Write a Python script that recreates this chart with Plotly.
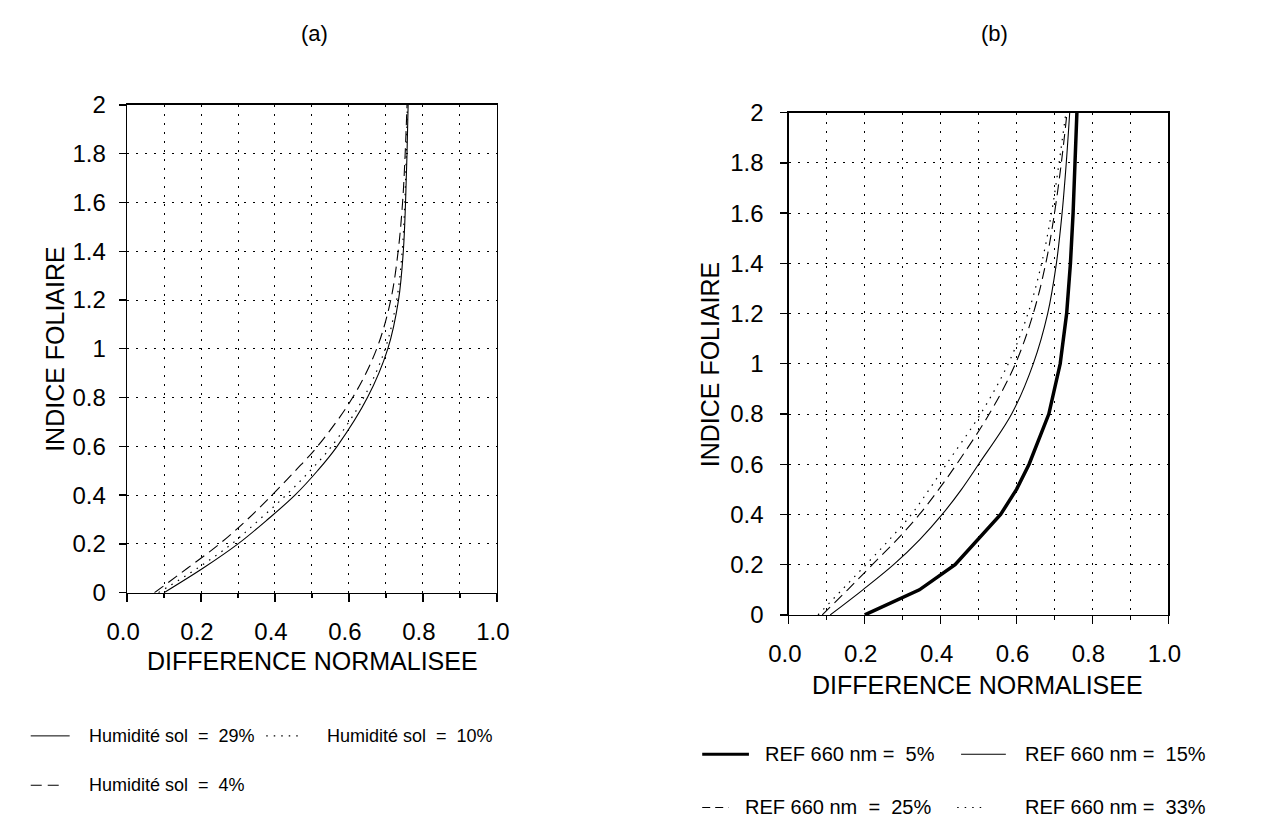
import plotly.graph_objects as go

W, H = 1267, 835

# ---------------- data ----------------
lai = [0, 0.1, 0.2, 0.3, 0.4, 0.5, 0.6, 0.8, 1.0, 1.2, 1.4, 1.6, 1.8, 2.0]

# panel (a) : soil moisture
hum_29 = [0.100, 0.205, 0.300, 0.380, 0.454, 0.515, 0.568, 0.650, 0.705, 0.734, 0.747, 0.753, 0.757, 0.760]
hum_10 = [0.085, 0.190, 0.283, 0.358, 0.430, 0.495, 0.553, 0.640, 0.698, 0.729, 0.744, 0.751, 0.755, 0.758]
hum_4 = [0.074, 0.163, 0.250, 0.325, 0.392, 0.455, 0.515, 0.610, 0.675, 0.713, 0.733, 0.745, 0.752, 0.757]

# panel (b) : reflectance 660 nm
ref_5 = [0.200, 0.344, 0.438, 0.497, 0.558, 0.600, 0.633, 0.685, 0.715, 0.732, 0.742, 0.749, 0.754, 0.759]
ref_15 = [0.109, 0.195, 0.276, 0.345, 0.404, 0.455, 0.500, 0.587, 0.644, 0.682, 0.705, 0.720, 0.731, 0.740]
ref_25 = [0.088, 0.155, 0.220, 0.285, 0.344, 0.395, 0.442, 0.528, 0.597, 0.644, 0.677, 0.700, 0.718, 0.733]
ref_33 = [0.077, 0.140, 0.203, 0.265, 0.323, 0.370, 0.415, 0.505, 0.578, 0.630, 0.666, 0.692, 0.712, 0.730]

x_ticks = [0.0, 0.2, 0.4, 0.6, 0.8, 1.0]
x_ticklabels = ["0.0", "0.2", "0.4", "0.6", "0.8", "1.0"]
y_ticks = [0, 0.2, 0.4, 0.6, 0.8, 1.0, 1.2, 1.4, 1.6, 1.8, 2.0]
y_ticklabels = ["0", "0.2", "0.4", "0.6", "0.8", "1", "1.2", "1.4", "1.6", "1.8", "2"]

FONT = "Liberation Sans, Arial, sans-serif"
DASH = "11px,6px"
DOT = "1.5px,6px"


def px(x):
    return x / W


def py(y):
    return 1 - y / H


fig = go.Figure()


def curve(xs, xa, ya, width, dash="solid", smooth=True):
    line = dict(color="black", width=width, dash=dash)
    if smooth:
        line.update(shape="spline", smoothing=1.0)
    fig.add_trace(go.Scatter(x=xs, y=lai, mode="lines", line=line, xaxis=xa, yaxis=ya,
                             showlegend=False, hoverinfo="skip"))


# panel (a)
curve(hum_29, "x", "y", 1.1)
curve(hum_10, "x", "y", 1.2, DOT)
curve(hum_4, "x", "y", 1.1, DASH)

# panel (b)
curve(ref_5, "x2", "y2", 3.5, smooth=False)
curve(ref_15, "x2", "y2", 1.1)
curve(ref_25, "x2", "y2", 1.1, DASH)
curve(ref_33, "x2", "y2", 1.2, DOT)


def xaxis_cfg(domain, anchor):
    return dict(domain=domain, anchor=anchor, range=[0, 1], tickvals=x_ticks, ticktext=x_ticklabels,
                showline=True, linecolor="black", linewidth=1.5, mirror=True,
                ticks="outside", ticklen=8, tickwidth=1.3, tickcolor="black",
                showgrid=True, gridcolor="black", gridwidth=1, griddash="2px,7px",
                minor=dict(dtick=0.1, tick0=0, showgrid=True, gridcolor="black", gridwidth=1,
                           griddash="2px,7px", ticks="outside", ticklen=4, tickcolor="black"),
                zeroline=False, ticklabelstandoff=9, ticklabelshift=-4,
                tickfont=dict(family=FONT, size=24, color="black"))


def yaxis_cfg(domain, anchor, standoff):
    return dict(domain=domain, anchor=anchor, range=[0, 2], tickvals=y_ticks, ticktext=y_ticklabels,
                showline=True, linecolor="black", linewidth=1.5, mirror=True,
                ticks="outside", ticklen=7, tickwidth=1.3, tickcolor="black",
                showgrid=True, gridcolor="black", gridwidth=1, griddash="2px,7px",
                zeroline=False, ticklabelstandoff=standoff,
                tickfont=dict(family=FONT, size=24, color="black"))


ax_a = (109, 489, 94, 598)
ax_b = (789, 1179, 102, 621)

fig.update_layout(
    width=W, height=H, margin=dict(l=0, r=0, t=0, b=0),
    paper_bgcolor="white", plot_bgcolor="white",
    font=dict(family=FONT, color="black"),
    xaxis=xaxis_cfg([px(ax_a[0]), px(ax_a[1])], "y"),
    yaxis=yaxis_cfg([py(ax_a[3]), py(ax_a[2])], "x", 8),
    xaxis2=xaxis_cfg([px(ax_b[0]), px(ax_b[1])], "y2"),
    yaxis2=yaxis_cfg([py(ax_b[3]), py(ax_b[2])], "x2", 12),
    showlegend=False,
    hovermode=False,
)

ann = []


def text(x, y, s, size, xanchor="center", angle=0):
    ann.append(dict(x=px(x), y=py(y), xref="paper", yref="paper", text=s, showarrow=False,
                    xanchor=xanchor, yanchor="middle", textangle=angle,
                    font=dict(family=FONT, size=size, color="black")))


# titles
text(302, 20, "(a)", 22)
text(1000, 20, "(b)", 22)
# axis titles
text(300, 669, "DIFFERENCE NORMALISEE", 25)
text(983, 693, "DIFFERENCE NORMALISEE", 25)
text(35, 346, "INDICE FOLIAIRE", 25, angle=-90)
text(708, 362, "INDICE FOLIAIRE", 25, angle=-90)

shapes = []


def sample(x0, x1, y, width, dash="solid"):
    shapes.append(dict(type="line", xref="paper", yref="paper", x0=px(x0), x1=px(x1), y0=py(y), y1=py(y),
                       line=dict(color="black", width=width, dash=dash)))


# legend (a)
sample(10, 50, 746, 1.0)
text(68, 746, "Humidité sol&nbsp; =&nbsp; 29%", 18, xanchor="left")
sample(252, 290, 746, 1.2, DOT)
text(312, 746, "Humidité sol&nbsp; =&nbsp; 10%", 18, xanchor="left")
sample(10, 44, 797, 1.1, DASH)
text(68, 797, "Humidité sol&nbsp; =&nbsp; 4%", 18, xanchor="left")

# legend (b)
sample(700, 748, 765, 3)
text(762, 765, "REF 660 nm =&nbsp; 5%", 20, xanchor="left")
sample(966, 1012, 765, 1.1)
text(1030, 765, "REF 660 nm =&nbsp; 15%", 20, xanchor="left")
sample(700, 727, 820, 1.1, "8px,5px")
text(742, 820, "REF 660 nm&nbsp; =&nbsp; 25%", 20, xanchor="left")
sample(962, 990, 820, 1.2, DOT)
text(1030, 820, "REF 660 nm =&nbsp; 33%", 20, xanchor="left")

fig.update_layout(annotations=ann, shapes=shapes)

fig.write_html("out.html", config={"displayModeBar": False, "staticPlot": True},
               post_script="document.body.style.margin='0';document.body.style.overflow='hidden';")
